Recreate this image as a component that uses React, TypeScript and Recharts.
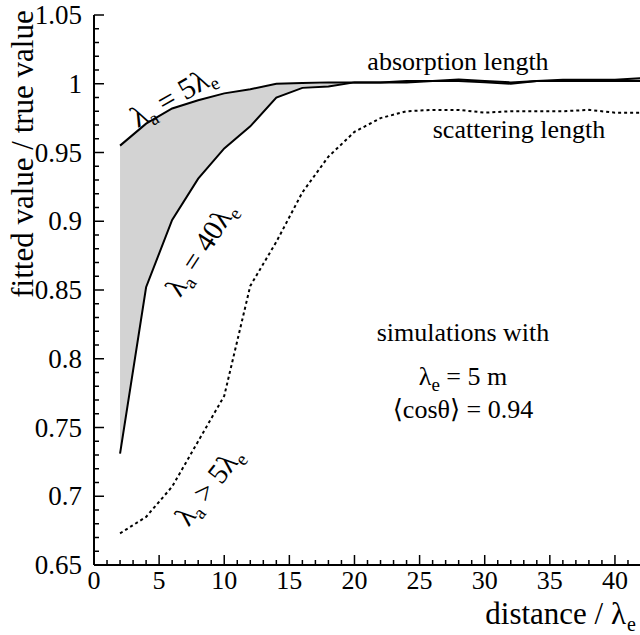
import React from "react";
import { ComposedChart, Line, Area, XAxis, YAxis } from "recharts";

const distance = [2, 4, 6, 8, 10, 12, 14, 16, 18, 20, 22, 24, 26, 28, 30, 32, 34, 36, 38, 40, 42];
const absorption5 = [0.955, 0.971, 0.982, 0.988, 0.993, 0.996, 1.0, 1.0005, 1.001, 1.001, 1.001, 1.002, 1.002, 1.003, 1.002, 1.001, 1.002, 1.003, 1.003, 1.003, 1.004];
const absorption40 = [0.731, 0.852, 0.901, 0.931, 0.953, 0.969, 0.99, 0.997, 0.998, 1.001, 1.001, 1.001, 1.002, 1.002, 1.001, 1.0, 1.002, 1.002, 1.002, 1.002, 1.002];
const scattering = [0.673, 0.685, 0.707, 0.74, 0.773, 0.853, 0.885, 0.921, 0.947, 0.965, 0.975, 0.98, 0.981, 0.981, 0.979, 0.98, 0.98, 0.98, 0.981, 0.979, 0.979];

const xMajorLabels = [0, 5, 10, 15, 20, 25, 30, 35, 40];
const xTicks = Array.from({ length: 43 }, (_, i) => i);
const yTicks = Array.from({ length: 41 }, (_, i) => (65 + i) / 100);

const data = distance.map((d, i) => ({
  d,
  a5: absorption5[i],
  a40: absorption40[i],
  sc: scattering[i],
  band: [absorption40[i], absorption5[i]],
}));

const FONT = "'Liberation Serif', Tinos, 'Times New Roman', 'DejaVu Serif', 'Noto Serif', serif";
const fontStyle = { fontFamily: FONT };

const BottomTick = (props: any) => {
  const { x, y, payload } = props;
  const v = payload.value;
  const major = v % 5 === 0;
  return (
    <g>
      <line x1={x} y1={y} x2={x} y2={y - (major ? 10 : 5)} stroke="#000" strokeWidth={1.5} />
      {major && xMajorLabels.includes(v) ? (
        <text x={x} y={y + 24} textAnchor="middle" style={fontStyle} fontSize={26} fill="#000">
          {v}
        </text>
      ) : null}
    </g>
  );
};

const LeftTick = (props: any) => {
  const { x, y, payload } = props;
  const v = payload.value;
  const major = Math.round(v * 100) % 5 === 0;
  return (
    <g>
      <line x1={x} y1={y} x2={x + (major ? 10 : 5)} y2={y} stroke="#000" strokeWidth={1.5} />
      {major ? (
        <text x={x - 12} y={y + 9} textAnchor="end" style={fontStyle} fontSize={27} fill="#000">
          {String(Math.round(v * 100) / 100)}
        </text>
      ) : null}
    </g>
  );
};

const RightTick = (props: any) => {
  const { x, y, payload } = props;
  const v = payload.value;
  const major = Math.round(v * 100) % 5 === 0;
  return <line x1={x} y1={y} x2={x - (major ? 10 : 5)} y2={y} stroke="#000" strokeWidth={1.5} />;
};

const Sub = ({ children }: { children: React.ReactNode }) => (
  <tspan dy={6} fontSize={19}>
    {children}
  </tspan>
);

export default function App() {
  return (
    <div style={{ position: "absolute", left: 0, top: 0, width: 640, height: 635, overflow: "hidden", background: "#fff" }}>
      <ComposedChart width={642} height={635} data={data} margin={{ top: 15, right: 1, bottom: 2, left: 0 }}>
        <XAxis
          xAxisId="b"
          dataKey="d"
          type="number"
          domain={[0, 42]}
          ticks={xTicks}
          interval={0}
          allowDataOverflow
          height={68}
          tickSize={0}
          tickMargin={0}
          tickLine={false}
          tick={<BottomTick />}
          axisLine={{ stroke: "#000", strokeWidth: 2 }}
        />
        <XAxis
          xAxisId="t"
          orientation="top"
          dataKey="d"
          type="number"
          domain={[0, 42]}
          height={0}
          tick={false}
          tickLine={false}
          axisLine={{ stroke: "#000", strokeWidth: 2 }}
        />
        <YAxis
          yAxisId="l"
          type="number"
          domain={[0.65, 1.05]}
          ticks={yTicks}
          interval={0}
          allowDataOverflow
          width={94}
          tickSize={0}
          tickMargin={0}
          tickLine={false}
          tick={<LeftTick />}
          axisLine={{ stroke: "#000", strokeWidth: 2 }}
        />
        <YAxis
          yAxisId="r"
          orientation="right"
          type="number"
          domain={[0.65, 1.05]}
          ticks={yTicks}
          interval={0}
          allowDataOverflow
          width={0}
          tickSize={0}
          tickMargin={0}
          tickLine={false}
          tick={<RightTick />}
          axisLine={{ stroke: "#000", strokeWidth: 2 }}
        />
        <Area
          xAxisId="b"
          yAxisId="l"
          dataKey="band"
          type="linear"
          stroke="none"
          fill="#d3d3d3"
          fillOpacity={1}
          isAnimationActive={false}
        />
        <Line xAxisId="b" yAxisId="l" dataKey="a5" type="linear" stroke="#000" strokeWidth={2} dot={false} isAnimationActive={false} />
        <Line xAxisId="b" yAxisId="l" dataKey="a40" type="linear" stroke="#000" strokeWidth={2} dot={false} isAnimationActive={false} />
        <Line
          xAxisId="b"
          yAxisId="l"
          dataKey="sc"
          type="linear"
          stroke="#000"
          strokeWidth={2}
          strokeDasharray="3 3"
          dot={false}
          isAnimationActive={false}
        />
      </ComposedChart>
      <svg width={640} height={635} style={{ position: "absolute", left: 0, top: 0, pointerEvents: "none", fontFamily: FONT }}>
        <g fill="#000">
          <text x={33} y={154} fontSize={31} textAnchor="middle" transform="rotate(-90 33 154)">
            fitted value / true value
          </text>
          <text x={626} y={624} fontSize={31} textAnchor="end">
            distance / λ
          </text>
          <text x={627} y={631} fontSize={20}>
            e
          </text>
          <text x={458} y={70} fontSize={26} textAnchor="middle">
            absorption length
          </text>
          <text x={519} y={138} fontSize={26} textAnchor="middle">
            scattering length
          </text>
          <text x={174} y={106} fontSize={30} textAnchor="middle" transform="rotate(-30 174 98)">
            λ<Sub>a</Sub>
            <tspan dy={-6}> = 5λ</tspan>
            <Sub>e</Sub>
          </text>
          <text x={202} y={258} fontSize={29} textAnchor="middle" transform="rotate(-57 202 250)">
            λ<Sub>a</Sub>
            <tspan dy={-6}> = 40λ</tspan>
            <Sub>e</Sub>
          </text>
          <text x={210} y={495} fontSize={29} textAnchor="middle" transform="rotate(-52 210 487)">
            λ<Sub>a</Sub>
            <tspan dy={-6}> &gt; 5λ</tspan>
            <Sub>e</Sub>
          </text>
          <text x={463} y={341} fontSize={26} textAnchor="middle">
            simulations with
          </text>
          <text x={463} y={385} fontSize={26} textAnchor="middle">
            λ<Sub>e</Sub>
            <tspan dy={-6}> = 5 m</tspan>
          </text>
          <text x={463} y={418} fontSize={26} textAnchor="middle">
            ⟨cosθ⟩ = 0.94
          </text>
        </g>
      </svg>
    </div>
  );
}
